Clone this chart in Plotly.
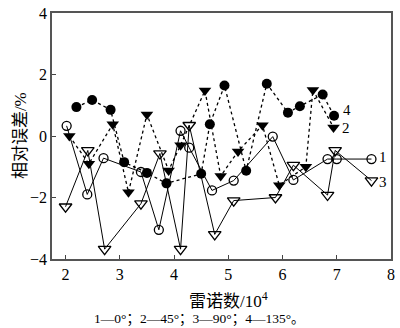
import plotly.graph_objects as go

# Series 1: 0 deg (open circles, solid)
x1 = [2.02, 2.40, 2.70, 3.39, 3.72, 4.12, 4.28, 4.70, 5.10, 5.82, 6.20, 6.83, 7.00, 7.64]
y1 = [0.33, -1.90, -0.72, -1.17, -3.05, 0.17, -0.38, -1.77, -1.45, -0.02, -1.43, -0.75, -0.75, -0.75]
# Series 2: 45 deg (filled down triangles, dotted)
x2 = [2.07, 2.43, 2.87, 3.16, 3.50, 3.90, 4.12, 4.57, 4.86, 5.18, 5.63, 5.94, 6.43, 6.56, 6.94]
y2 = [0.00, -0.90, 0.38, -1.83, 0.70, -1.12, -0.30, 1.48, -1.30, -0.50, 0.35, -1.60, -1.00, 1.50, 0.28]
# Series 3: 90 deg (open down triangles, solid)
x3 = [2.00, 2.41, 2.72, 3.39, 3.74, 4.12, 4.28, 4.75, 5.10, 5.87, 6.20, 6.83, 6.97, 7.64]
y3 = [-2.30, -0.47, -3.68, -2.20, -0.57, -3.68, 0.35, -3.20, -2.10, -2.00, -0.95, -1.92, -0.47, -1.45]
# Series 4: 135 deg (filled circles, dotted)
x4 = [2.20, 2.49, 2.83, 3.08, 3.50, 3.86, 4.50, 4.66, 4.93, 5.33, 5.71, 6.10, 6.32, 6.74, 6.95]
y4 = [0.94, 1.17, 0.85, -0.85, -1.20, -1.54, -1.23, 0.38, 1.64, -1.13, 1.70, 0.76, 0.97, 1.35, 0.66]

x_ticks = [2, 3, 4, 5, 6, 7, 8]
y_ticks = [-4, -2, 0, 2, 4]
y_tick_text = ["\u22124", "\u22122", "0", "2", "4"]
series_labels = ["1", "2", "3", "4"]

FONT = "Liberation Serif, Times New Roman, Noto Sans CJK SC, serif"
K = "black"

fig = go.Figure()
fig.add_trace(go.Scatter(x=x1, y=y1, mode="lines+markers",
                         line=dict(color=K, width=1),
                         marker=dict(symbol="circle-open", size=9, color=K, line=dict(width=1.3))))
fig.add_trace(go.Scatter(x=x3, y=y3, mode="lines+markers",
                         line=dict(color=K, width=1),
                         marker=dict(symbol="triangle-down-open", size=11, color=K, line=dict(width=1.3))))
fig.add_trace(go.Scatter(x=x2, y=y2, mode="lines+markers",
                         line=dict(color=K, width=1.3, dash="dot"),
                         marker=dict(symbol="triangle-down", size=11, color=K)))
fig.add_trace(go.Scatter(x=x4, y=y4, mode="lines+markers",
                         line=dict(color=K, width=1.3, dash="dot"),
                         marker=dict(symbol="circle", size=10, color=K)))

# series labels next to last points
ends = {"1": (x1[-1], y1[-1]), "2": (x2[-1], y2[-1]), "3": (x3[-1], y3[-1]), "4": (x4[-1], y4[-1])}
shifts = {"1": (6, 2), "2": (6, -1), "3": (6, -1), "4": (7, 6)}
for lab in series_labels:
    ex, ey = ends[lab]
    dx, dy = shifts[lab]
    fig.add_annotation(x=ex, y=ey, text=lab, showarrow=False, xanchor="left",
                       xshift=dx, yshift=dy,
                       font=dict(family=FONT, size=15, color=K))

fig.update_xaxes(range=[1.75, 8], tickvals=x_ticks, ticks="inside", ticklen=4,
                 tickcolor="#444", showline=True, linecolor="#555", linewidth=1.5,
                 mirror=True, showgrid=False, zeroline=False, ticklabeloverflow="allow",
                 tickfont=dict(family=FONT, size=16, color=K))
fig.update_yaxes(range=[-4, 4], tickvals=y_ticks, ticktext=y_tick_text, ticks="inside",
                 ticklen=4, tickcolor="#444", showline=True, linecolor="#555",
                 linewidth=1.5, mirror=True, showgrid=False, zeroline=False,
                 ticklabeloverflow="allow",
                 tickfont=dict(family=FONT, size=16, color=K))

fig.add_annotation(xref="paper", yref="paper", x=-0.128, y=0.5, text="相对误差/%",
                   textangle=-90, showarrow=False,
                   font=dict(family=FONT, size=17, color=K))
fig.add_annotation(xref="paper", yref="paper", x=0.52, y=-0.115, yanchor="top",
                   text="雷诺数/10<sup>4</sup>", showarrow=False,
                   font=dict(family=FONT, size=17, color=K))
fig.add_annotation(xref="paper", yref="paper", x=0.435, y=-0.205, yanchor="top",
                   text="1—0°；2—45°；3—90°；4—135°。", showarrow=False,
                   font=dict(family=FONT, size=13.5, color=K))

fig.update_layout(width=400, height=328, showlegend=False,
                  margin=dict(l=52, r=5, t=5, b=69),
                  paper_bgcolor="white", plot_bgcolor="white")

fig.write_html("out.html")
